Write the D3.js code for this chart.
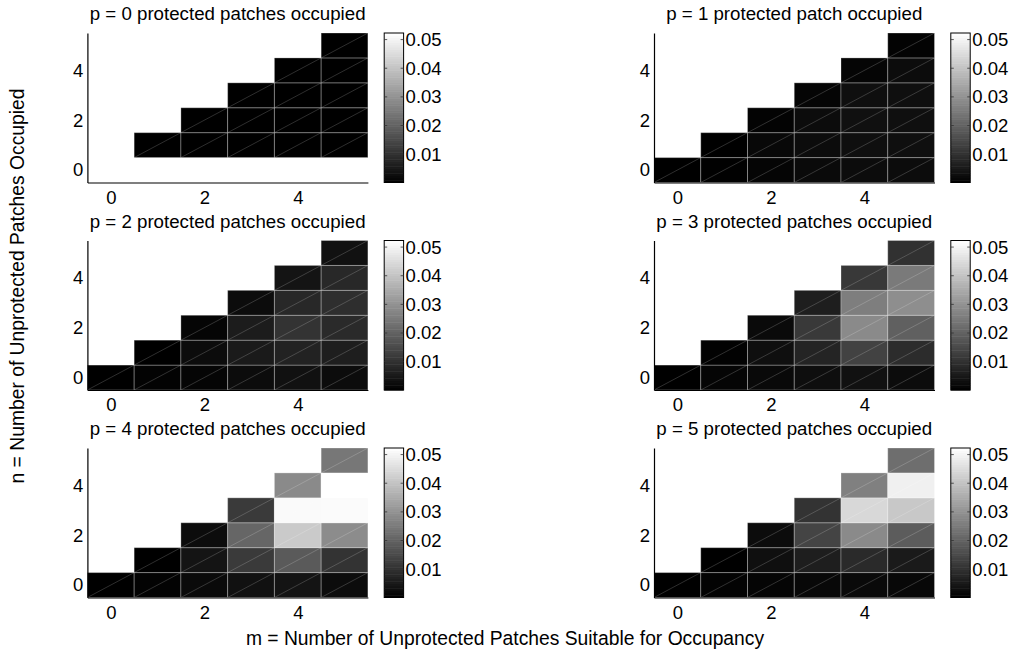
<!DOCTYPE html>
<html>
<head>
<meta charset="utf-8">
<script src="https://cdn.jsdelivr.net/npm/d3@7"></script>
<style>
  body { margin: 0; background: #fff; }
  svg text { font-family: "Liberation Sans", Arial, sans-serif; fill: #000; }
</style>
</head>
<body>
<div id="graf"></div>
<script>
// m = columns, n = rows
const mValues = [0, 1, 2, 3, 4, 5]
const nValues = [0, 1, 2, 3, 4, 5]
const axisTicks = [0, 2, 4]
const colorTicks = [0.01, 0.02, 0.03, 0.04, 0.05]
const colorRange = [0.0001, 0.0523]

const titles = [
    'p = 0 protected patches occupied',
    'p = 1 protected patch occupied',
    'p = 2 protected patches occupied',
    'p = 3 protected patches occupied',
    'p = 4 protected patches occupied',
    'p = 5 protected patches occupied',
]

// rows are n = 0..5, columns m = 0..5 (null = no cell)
const probP0 = [
    [null, null, null, null, null, null],
    [null, 0.0001, 0.0001, 0.0001, 0.0002, 0.0002],
    [null, null, 0.0001, 0.0002, 0.0002, 0.0002],
    [null, null, null, 0.0001, 0.0002, 0.0002],
    [null, null, null, null, 0.0001, 0.0002],
    [null, null, null, null, null, 0.0001],
]
const probP1 = [
    [0.0001, 0.0003, 0.0011, 0.0021, 0.0026, 0.0026],
    [null, 0.0002, 0.0017, 0.0026, 0.0032, 0.0032],
    [null, null, 0.0007, 0.0026, 0.0034, 0.0032],
    [null, null, null, 0.0011, 0.0032, 0.0032],
    [null, null, null, null, 0.0011, 0.0026],
    [null, null, null, null, null, 0.0007],
]
const probP2 = [
    [0.0001, 0.0007, 0.0011, 0.0026, 0.0036, 0.0026],
    [null, 0.0002, 0.0026, 0.0054, 0.0071, 0.0062],
    [null, null, 0.0011, 0.0058, 0.0105, 0.0087],
    [null, null, null, 0.0026, 0.0083, 0.0095],
    [null, null, null, null, 0.0042, 0.0083],
    [null, null, null, null, null, 0.0036],
]
const probP3 = [
    [0.0001, 0.0011, 0.0019, 0.0030, 0.0036, 0.0026],
    [null, 0.0005, 0.0032, 0.0075, 0.0136, 0.0091],
    [null, null, 0.0021, 0.0118, 0.0284, 0.0198],
    [null, null, null, 0.0062, 0.0259, 0.0292],
    [null, null, null, null, 0.0116, 0.0251],
    [null, null, null, null, null, 0.0101],
]
const probP4 = [
    [0.0001, 0.0007, 0.0021, 0.0036, 0.0042, 0.0026],
    [null, 0.0002, 0.0042, 0.0120, 0.0185, 0.0105],
    [null, null, 0.0026, 0.0210, 0.0415, 0.0288],
    [null, null, null, 0.0120, 0.0513, 0.0515],
    [null, null, null, null, 0.0284, 0.0523],
    [null, null, null, null, null, 0.0245],
]
const probP5 = [
    [0.0001, 0.0007, 0.0011, 0.0017, 0.0021, 0.0017],
    [null, 0.0002, 0.0032, 0.0062, 0.0087, 0.0054],
    [null, null, 0.0026, 0.0140, 0.0284, 0.0189],
    [null, null, null, 0.0105, 0.0443, 0.0410],
    [null, null, null, null, 0.0263, 0.0492],
    [null, null, null, null, null, 0.0226],
]
const panels = [probP0, probP1, probP2, probP3, probP4, probP5]

const anchoTotal = 1011
const altoTotal = 666

const svg = d3.select('#graf').append('svg')
    .attr('width', anchoTotal)
    .attr('height', altoTotal)

const colLeft = [87.4, 654]
const rowTop = [33, 240.5, 448]
const ancho = 280.5
const alto = 149.5
const fs = 18.5

const color = d3.scaleLinear().domain(colorRange).range(['#000', '#fff']).clamp(true)

panels.forEach((grid, i) => {
    const x0 = colLeft[i % 2]
    const y0 = rowTop[Math.floor(i / 2)]
    const g = svg.append('g').attr('transform', `translate(${x0},${y0})`)

    const x = d3.scaleLinear().domain([-0.5, 5.5]).range([0, ancho])
    const y = d3.scaleLinear().domain([-0.5, 5.5]).range([alto, 0])

    const cells = []
    nValues.forEach(n => mValues.forEach(m => {
        const v = grid[n][m]
        if (v !== null) cells.push({ m, n, v })
    }))

    const cg = g.selectAll('g.cell').data(cells).enter().append('g')
    cg.append('rect')
        .attr('x', d => x(d.m - 0.5))
        .attr('y', d => y(d.n + 0.5))
        .attr('width', x(1) - x(0))
        .attr('height', y(0) - y(1))
        .attr('fill', d => color(d.v))
        .attr('stroke', '#fff')
        .attr('stroke-opacity', 0.28)
        .attr('stroke-width', 1)
    cg.append('line')
        .attr('x1', d => x(d.m - 0.5))
        .attr('y1', d => y(d.n - 0.5))
        .attr('x2', d => x(d.m + 0.5))
        .attr('y2', d => y(d.n + 0.5))
        .attr('stroke', '#fff')
        .attr('stroke-opacity', 0.3)
        .attr('stroke-width', 0.6)

    const ax = g.append('g').attr('transform', `translate(0,${alto})`)
        .call(d3.axisBottom(x).tickValues(axisTicks).tickFormat(d3.format('d'))
            .tickSize(0).tickSizeOuter(0).tickPadding(8))
    const ay = g.append('g')
        .call(d3.axisLeft(y).tickValues(axisTicks).tickFormat(d3.format('d'))
            .tickSize(0).tickSizeOuter(0).tickPadding(4))
    ;[ax, ay].forEach(a => {
        a.select('.domain').attr('stroke', '#000').attr('stroke-width', 1.2)
        a.selectAll('text').attr('font-size', fs).attr('font-family', null)
    })

    g.append('text')
        .attr('x', ancho / 2)
        .attr('y', -13)
        .attr('text-anchor', 'middle')
        .attr('font-size', 18.7)
        .text(titles[i])

    // colorbar
    const cbX = ancho + 16.3
    const cbW = 19.4
    const cy = d3.scaleLinear().domain(colorRange).range([alto, 0])
    const cb = g.append('g').attr('transform', `translate(${cbX},0)`)
    const stepH = (colorRange[1] - colorRange[0]) / 64
    const steps = d3.range(64).map(k => colorRange[0] + stepH * k)
    cb.selectAll('rect.step').data(steps).enter().append('rect')
        .attr('x', 0)
        .attr('y', d => cy(d + stepH))
        .attr('width', cbW)
        .attr('height', d => cy(d) - cy(d + stepH) + 0.5)
        .attr('fill', d => color(d + stepH / 2))
    cb.append('rect')
        .attr('width', cbW).attr('height', alto)
        .attr('fill', 'none').attr('stroke', '#000').attr('stroke-width', 1)
    colorTicks.forEach(t => {
        cb.append('line').attr('x1', 0).attr('x2', 3).attr('y1', cy(t)).attr('y2', cy(t))
            .attr('stroke', '#333').attr('stroke-width', 0.8)
        cb.append('line').attr('x1', cbW - 3).attr('x2', cbW).attr('y1', cy(t)).attr('y2', cy(t))
            .attr('stroke', '#333').attr('stroke-width', 0.8)
    })
    const cax = cb.append('g').attr('transform', `translate(${cbW},0)`)
        .call(d3.axisRight(cy).tickValues(colorTicks).tickSize(0).tickPadding(2).tickFormat(d3.format('.2f')))
    cax.select('.domain').remove()
    cax.selectAll('text').attr('font-size', fs).attr('font-family', null)
})

svg.append('text')
    .attr('x', 505)
    .attr('y', 645)
    .attr('text-anchor', 'middle')
    .attr('font-size', 19.3)
    .text('m = Number of Unprotected Patches Suitable for Occupancy')

svg.append('text')
    .attr('transform', 'translate(24,286) rotate(-90)')
    .attr('text-anchor', 'middle')
    .attr('font-size', 19.3)
    .text('n = Number of Unprotected Patches Occupied')
</script>
</body>
</html>
